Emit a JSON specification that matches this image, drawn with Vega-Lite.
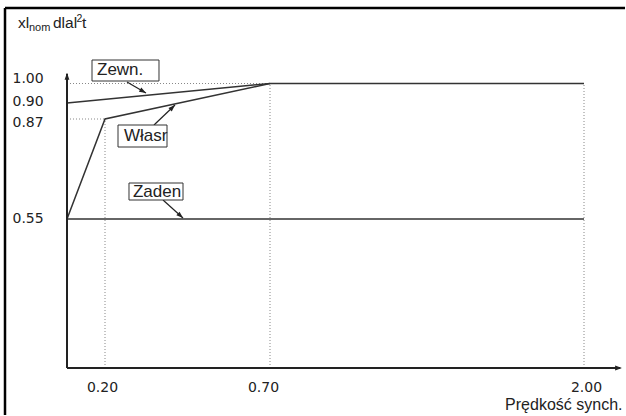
{
  "$schema": "https://vega.github.io/schema/vega-lite/v6.json",
  "width": 626,
  "height": 416,
  "autosize": "none",
  "padding": 0,
  "background": "white",
  "config": {"view": {"stroke": null}},
  "encoding": {
    "x": {
      "field": "x", "type": "quantitative",
      "scale": {"domain": [0, 0.2, 0.7, 2.0], "range": [67, 105, 270, 584], "nice": false, "zero": false},
      "axis": {
        "orient": "bottom", "values": [0.2, 0.7, 2.0], "format": ".2f",
        "domain": false, "ticks": false, "tickSize": 0, "grid": false,
        "labelFlush": false, "labelOverlap": false, "labelBound": false,
        "labelAlign": "center", "labelBaseline": "middle", "labelPadding": -29,
        "labelFont": "DejaVu Sans", "labelFontSize": 14, "labelColor": "#222",
        "labelOffset": {"condition": [{"test": "datum.value === 0.2", "value": -3}, {"test": "datum.value === 0.7", "value": -7}], "value": 2},
        "title": "Prędkość synch.", "titleFont": "Liberation Sans", "titleFontSize": 16,
        "titleFontWeight": "normal", "titleColor": "#222", "titleAlign": "right",
        "titleBaseline": "middle", "titleX": 622, "titleY": -12
      }
    },
    "y": {
      "field": "y", "type": "quantitative",
      "scale": {"domain": [0, 0.55, 0.87, 0.9, 1.0], "range": [368, 219, 119, 103, 83.5], "nice": false, "zero": false},
      "axis": {
        "orient": "left", "values": [0.55, 0.87, 0.9, 1.0], "format": ".2f",
        "domain": false, "ticks": false, "tickSize": 0, "grid": false,
        "labelFlush": false, "labelOverlap": false, "labelBound": false,
        "labelAlign": "left", "labelBaseline": "middle", "labelPadding": -12,
        "labelFont": "DejaVu Sans", "labelFontSize": 14, "labelColor": "#222",
        "labelOffset": {"condition": [{"test": "datum.value === 1", "value": -5.5}, {"test": "datum.value === 0.9", "value": -2}, {"test": "datum.value === 0.87", "value": 3}], "value": -1},
        "title": null
      }
    }
  },
  "layer": [
    {
      "data": {"values": [
        {"guide": "v0.2", "x": 0.2, "y": 0, "x2": 0.2, "y2": 0.87},
        {"guide": "v0.7", "x": 0.7, "y": 0, "x2": 0.7, "y2": 1.0},
        {"guide": "v2.0", "x": 2.0, "y": 0, "x2": 2.0, "y2": 1.0},
        {"guide": "h1.0", "x": 0, "y": 1.0, "x2": 0.7, "y2": 1.0},
        {"guide": "h0.87", "x": 0, "y": 0.87, "x2": 0.2, "y2": 0.87}
      ]},
      "mark": {"type": "rule", "color": "#888", "strokeWidth": 1, "strokeDash": [1, 2]},
      "encoding": {"x2": {"field": "x2"}, "y2": {"field": "y2"}}
    },
    {
      "data": {"values": [
        {"series": "Zewn.", "x": 0, "y": 0.9},
        {"series": "Zewn.", "x": 0.7, "y": 1.0},
        {"series": "Zewn.", "x": 2.0, "y": 1.0},
        {"series": "Własr", "x": 0, "y": 0.55},
        {"series": "Własr", "x": 0.2, "y": 0.87},
        {"series": "Własr", "x": 0.7, "y": 1.0},
        {"series": "Zaden", "x": 0, "y": 0.55},
        {"series": "Zaden", "x": 2.0, "y": 0.55}
      ]},
      "mark": {"type": "line", "color": "#333", "strokeWidth": 1.5},
      "encoding": {"detail": {"field": "series"}}
    },
    {
      "data": {"values": [
        {"part": "y axis", "x": 0, "y": 0, "x2": 0, "y2": 1.05},
        {"part": "x axis", "x": 0, "y": 0, "x2": 2.15, "y2": 0}
      ]},
      "mark": {"type": "rule", "color": "#222", "strokeWidth": 2},
      "encoding": {"x2": {"field": "x2"}, "y2": {"field": "y2"}}
    },
    {
      "data": {"values": [
        {"part": "frame left", "x": -0.3263, "y": 1.3872, "y2": -0.1735}
      ]},
      "mark": {"type": "rule", "color": "#000", "strokeWidth": 2.5},
      "encoding": {"y2": {"field": "y2"}}
    },
    {
      "data": {"values": [
        {"part": "frame top", "x": -0.3263, "x2": 2.1698, "y": 1.3872}
      ]},
      "mark": {"type": "rule", "color": "#000", "strokeWidth": 2.5},
      "encoding": {"x2": {"field": "x2"}}
    },
    {
      "data": {"values": [
        {"label": "Zewn.", "x": 0.2667, "y": 1.0077, "x2": 0.3242, "y2": 0.9513},
        {"label": "Własr", "x": 0.3485, "y": 0.8508, "x2": 0.4121, "y2": 0.8962},
        {"label": "Zaden", "x": 0.3758, "y": 0.6108, "x2": 0.4364, "y2": 0.5532}
      ]},
      "mark": {"type": "rule", "color": "#222", "strokeWidth": 1.2},
      "encoding": {"x2": {"field": "x2"}, "y2": {"field": "y2"}}
    },
    {
      "data": {"values": [
        {"arrow": "Zewn.", "x": 0.3242, "y": 0.9513, "heading": 120},
        {"arrow": "Własr", "x": 0.4121, "y": 0.8962, "heading": 46},
        {"arrow": "Zaden", "x": 0.4364, "y": 0.5532, "heading": 132},
        {"arrow": "y axis", "x": 0, "y": 1.0538, "heading": 0},
        {"arrow": "x axis", "x": 2.157, "y": 0, "heading": 90}
      ]},
      "mark": {"type": "point", "shape": "M0,0L-0.6,1.7L0.6,1.7Z", "filled": true, "color": "#222", "opacity": 1, "size": 64},
      "encoding": {"angle": {"field": "heading", "type": "quantitative", "scale": null}}
    },
    {
      "data": {"values": [
        {"label": "Zewn.", "x": 0.1316, "x2": 0.3636, "y": 1.1205, "y2": 1.0128},
        {"label": "Własr", "x": 0.2394, "x2": 0.3879, "y": 0.8508, "y2": 0.7804},
        {"label": "Zaden", "x": 0.2727, "x2": 0.4364, "y": 0.6652, "y2": 0.6108}
      ]},
      "mark": {"type": "rect", "fill": "white", "stroke": "#333", "strokeWidth": 1},
      "encoding": {"x2": {"field": "x2"}, "y2": {"field": "y2"}}
    },
    {
      "data": {"values": [
        {"label": "Zewn.", "x": 0.1579, "y": 1.0667},
        {"label": "Własr", "x": 0.2576, "y": 0.8156},
        {"label": "Zaden", "x": 0.2848, "y": 0.6364}
      ]},
      "mark": {"type": "text", "align": "left", "baseline": "middle", "font": "Liberation Sans", "fontSize": 17, "color": "#222"},
      "encoding": {"text": {"field": "label"}}
    },
    {
      "data": {"values": [
        {"piece": "xl", "x": -0.2579, "y": 1.2846},
        {"piece": "dlal", "x": -0.0737, "y": 1.2846},
        {"piece": "t", "x": 0.0789, "y": 1.2846}
      ]},
      "mark": {"type": "text", "align": "left", "baseline": "alphabetic", "font": "Liberation Sans", "fontSize": 15.5, "color": "#222"},
      "encoding": {"text": {"field": "piece"}}
    },
    {
      "data": {"values": [{"piece": "nom", "x": -0.2, "y": 1.2667}]},
      "mark": {"type": "text", "align": "left", "baseline": "alphabetic", "font": "Liberation Sans", "fontSize": 11, "color": "#222"},
      "encoding": {"text": {"field": "piece"}}
    },
    {
      "data": {"values": [{"piece": "2", "x": 0.05, "y": 1.3154}]},
      "mark": {"type": "text", "align": "left", "baseline": "alphabetic", "font": "Liberation Sans", "fontSize": 10.5, "color": "#222"},
      "encoding": {"text": {"field": "piece"}}
    }
  ]
}
